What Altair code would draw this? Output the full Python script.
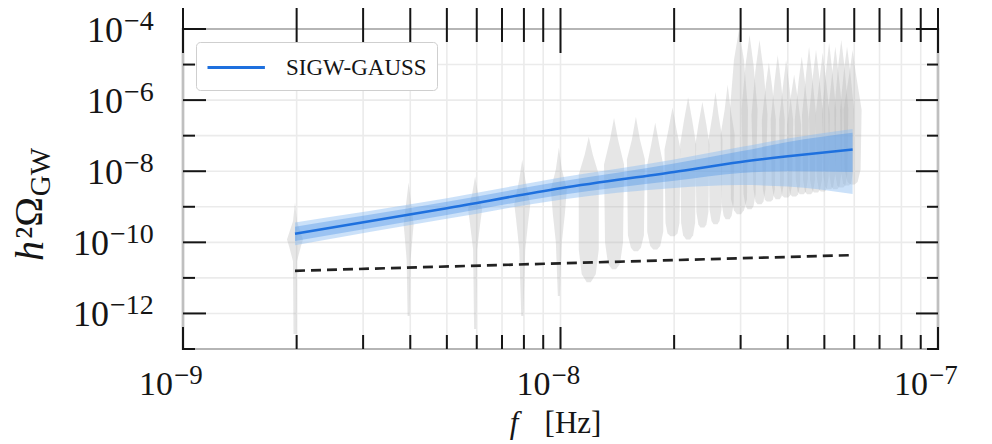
import altair as alt
import pandas as pd

FONT = "Liberation Serif"

# ---------------- data ----------------
F_BIN = 1.98e-9                      # frequency bin spacing (1/T)
K = list(range(1, 31))               # frequency bins

# violin outlines: log10(h^2 Omega) levels (top -> bottom) and relative widths
VIOLIN_LEVELS = [
    [-8.88, -9.41, -9.92, -10.10, -10.53, -12.58],
    [-8.32, -8.79, -9.50, -9.80, -10.48, -12.07],
    [-8.15, -8.65, -9.07, -9.50, -10.20, -12.44],
    [-7.67, -8.23, -8.93, -9.40, -10.20, -12.07],
    [-7.34, -7.95, -8.51, -9.20, -10.00, -11.51],
    [-7.03, -7.53, -8.09, -10.20, -10.90, -11.12],
    [-6.50, -7.11, -7.81, -10.00, -10.60, -10.76],
    [-6.47, -7.11, -7.67, -9.80, -10.15, -10.25],
    [-6.64, -7.25, -7.81, -9.70, -10.10, -10.20],
    [-6.21, -6.83, -7.39, -9.45, -9.75, -9.83],
    [-5.93, -6.55, -7.25, -9.45, -9.80, -9.92],
    [-6.05, -6.69, -7.25, -9.15, -9.50, -9.58],
    [-5.77, -6.41, -7.11, -9.07, -9.40, -9.49],
    [-5.57, -6.27, -6.97, -8.90, -9.25, -9.35],
    [-4.03, -4.87, -6.27, -8.79, -9.10, -9.21],
    [-4.17, -5.01, -6.27, -8.65, -8.98, -9.07],
    [-4.31, -5.15, -6.41, -8.51, -8.85, -8.93],
    [-4.95, -5.57, -6.55, -8.51, -8.80, -8.85],
    [-4.73, -5.43, -6.55, -8.37, -8.70, -8.79],
    [-4.87, -5.57, -6.55, -8.37, -8.68, -8.74],
    [-5.29, -5.85, -6.69, -8.37, -8.65, -8.71],
    [-4.78, -5.43, -6.55, -8.23, -8.58, -8.65],
    [-4.50, -5.29, -6.41, -8.23, -8.58, -8.65],
    [-4.59, -5.29, -6.41, -8.23, -8.52, -8.60],
    [-4.67, -5.37, -6.41, -8.15, -8.50, -8.57],
    [-4.39, -5.15, -6.27, -8.09, -8.44, -8.51],
    [-4.50, -5.21, -6.27, -8.09, -8.44, -8.51],
    [-4.31, -5.01, -6.27, -8.09, -8.40, -8.46],
    [-4.50, -5.15, -6.27, -8.01, -8.34, -8.40],
    [-4.59, -5.21, -6.27, -7.95, -8.30, -8.37],
]
VIOLIN_WIDTH = [
    [0, .2, .8, .6, .2, .15],
    [0, .2, .5, .4, .2, .10],
    [0, .3, .7, .5, .2, .10],
    [0, .3, .8, .6, .3, .10],
    [0, .3, .8, .6, .3, .10],
    [0, .4, 1.0, 1.0, .7, .2],
    [0, .4, 1.0, .9, .6, .2],
    [0, .4, .9, .8, .5, .2],
    [0, .4, .8, .8, .5, .2],
    [0, .4, .8, .7, .5, .2],
    [0, .4, .8, .7, .5, .2],
    [0, .4, .7, .6, .4, .2],
    [0, .3, .7, .6, .4, .2],
    [0, .3, .7, .6, .4, .2],
    [0, .5, .9, .8, .5, .2],
    [0, .4, .8, .6, .4, .2],
    [0, .4, .8, .6, .4, .2],
    [0, .3, .7, .6, .4, .2],
    [0, .3, .7, .6, .4, .2],
    [0, .3, .7, .6, .4, .2],
    [0, .3, .7, .6, .4, .2],
    [0, .3, .7, .6, .4, .2],
    [0, .3, .7, .6, .4, .2],
    [0, .3, .7, .6, .4, .2],
    [0, .3, .7, .6, .4, .2],
    [0, .3, .7, .6, .4, .2],
    [0, .3, .7, .6, .4, .2],
    [0, .3, .7, .6, .4, .2],
    [0, .3, .7, .6, .4, .2],
    [0, .3, .9, .8, .5, .2],
]
VIOLIN_MAX_HALFWIDTH_DEC = 0.0265    # widest violin half-width, in decades of f

# SIGW-GAUSS posterior (log10 h^2 Omega)
SIGW_F = [1.98e-9, 5e-9, 1e-8, 2e-8, 3e-8, 4e-8, 5.94e-8]
SIGW_MED = [-9.76, -9.04, -8.48, -8.02, -7.74, -7.58, -7.39]
SIGW_IN_LO = [-9.96, -9.23, -8.67, -8.27, -8.05, -8.00, -8.02]
SIGW_IN_HI = [-9.56, -8.86, -8.29, -7.78, -7.44, -7.18, -6.92]
SIGW_OUT_LO = [-10.08, -9.34, -8.80, -8.47, -8.39, -8.43, -8.64]
SIGW_OUT_HI = [-9.44, -8.76, -8.18, -7.67, -7.32, -7.08, -6.81]

# dashed reference curve
DASH_F = [1.98e-9, 1e-8, 5.94e-8]
DASH_LOG = [-10.80, -10.59, -10.36]

X_TICK_MAJOR = [1e-9, 1e-8, 1e-7]
X_TICK_MINOR = [m * 10.0 ** e for e in (-9, -8) for m in range(2, 10)]
X_LABEL_EXP = ["\u22129", "\u22128", "\u22127"]
Y_TICK_MAJOR = [1e-4, 1e-6, 1e-8, 1e-10, 1e-12]
Y_TICK_MINOR = [1e-5, 1e-7, 1e-9, 1e-11, 1e-13]
Y_LABEL_EXP = ["\u22124", "\u22126", "\u22128", "\u221210", "\u221212"]

# ---------------- tables ----------------
vrows = []
for k, lev, wid in zip(K, VIOLIN_LEVELS, VIOLIN_WIDTH):
    f = k * F_BIN
    for lv, w in zip(lev, wid):
        hw = 10 ** (w * VIOLIN_MAX_HALFWIDTH_DEC)
        vrows.append({"k": k, "lvl": 10 ** lv, "lo": f / hw, "hi": f * hw})
violins = pd.DataFrame(vrows)

sigw = pd.DataFrame({
    "f": SIGW_F,
    "med": [10 ** v for v in SIGW_MED],
    "ilo": [10 ** v for v in SIGW_IN_LO],
    "ihi": [10 ** v for v in SIGW_IN_HI],
    "olo": [10 ** v for v in SIGW_OUT_LO],
    "ohi": [10 ** v for v in SIGW_OUT_HI],
    "series": ["SIGW-GAUSS"] * len(SIGW_F),
})
dash = pd.DataFrame({"f": DASH_F, "v": [10 ** v for v in DASH_LOG]})

xmaj = pd.DataFrame({"f": X_TICK_MAJOR, "e": X_LABEL_EXP})
xmin = pd.DataFrame({"f": X_TICK_MINOR})
ymaj = pd.DataFrame({"v": Y_TICK_MAJOR, "e": Y_LABEL_EXP})
ymin = pd.DataFrame({"v": Y_TICK_MINOR})
ylab1 = ymaj[ymaj["e"].str.len() == 2]
ylab2 = ymaj[ymaj["e"].str.len() == 3]
one = pd.DataFrame({"a": [0]})
gridx = pd.DataFrame({"f": sorted(X_TICK_MAJOR + X_TICK_MINOR)})
gridy = pd.DataFrame({"v": sorted(Y_TICK_MAJOR + Y_TICK_MINOR)})

W, H = 755, 320
XS = alt.Scale(type="log", domain=[1e-9, 1e-7])
YS = alt.Scale(type="log", domain=[1e-13, 1e-4])
INK = "#151515"
GRID = "#ebebeb"

# ---------------- layers ----------------
grid_x = alt.Chart(gridx).mark_rule(color=GRID, strokeWidth=1.6).encode(
    x=alt.X("f:Q", scale=XS, axis=None), y=alt.value(0), y2=alt.value(H))
grid_y = alt.Chart(gridy).mark_rule(color=GRID, strokeWidth=1.6).encode(
    y=alt.Y("v:Q", scale=YS, axis=None), x=alt.value(0), x2=alt.value(W))

violin_layer = alt.Chart(violins).mark_area(
    orient="horizontal", color="#b0b0b0", opacity=0.32
).encode(
    y=alt.Y("lvl:Q", scale=YS, axis=None),
    x=alt.X("lo:Q", scale=XS, axis=None),
    x2="hi:Q",
    detail="k:N",
)

outer_band = alt.Chart(sigw).mark_area(color="#8bbcf1", opacity=0.45, interpolate="monotone").encode(
    x=alt.X("f:Q", scale=XS, axis=None), y=alt.Y("olo:Q", scale=YS, axis=None), y2="ohi:Q")
inner_band = alt.Chart(sigw).mark_area(color="#4b92e8", opacity=0.38, interpolate="monotone").encode(
    x=alt.X("f:Q", scale=XS, axis=None), y=alt.Y("ilo:Q", scale=YS, axis=None), y2="ihi:Q")
med_line = alt.Chart(sigw).mark_line(strokeWidth=2.6, interpolate="monotone").encode(
    x=alt.X("f:Q", scale=XS, axis=None),
    y=alt.Y("med:Q", scale=YS, axis=None),
    color=alt.Color("series:N", scale=alt.Scale(domain=["SIGW-GAUSS"], range=["#1e70de"]),
                    legend=alt.Legend(title=None, orient="top-left", offset=13, padding=10,
                                      fillColor="white", strokeColor="#cfcfcf", cornerRadius=4,
                                      labelFont=FONT, labelFontSize=23, labelColor=INK,
                                      symbolType="M-1,0H3.1", symbolSize=784, symbolStrokeWidth=3,
                                      labelOffset=49, symbolOffset=0)),
)
dash_line = alt.Chart(dash).mark_line(color="#222222", strokeWidth=2.7, strokeDash=[10, 6]).encode(
    x=alt.X("f:Q", scale=XS, axis=None), y=alt.Y("v:Q", scale=YS, axis=None))

def xrule(df, y1, y2):
    return alt.Chart(df).mark_rule(color=INK, strokeWidth=2).encode(
        x=alt.X("f:Q", scale=XS, axis=None), y=alt.value(y1), y2=alt.value(y2))

def yrule(df, x1, x2):
    return alt.Chart(df).mark_rule(color=INK, strokeWidth=2).encode(
        y=alt.Y("v:Q", scale=YS, axis=None), x=alt.value(x1), x2=alt.value(x2))

ticks = [
    xrule(xmin, H, H - 14), xrule(xmaj, H, H - 22),
    xrule(xmin, -21, 13), xrule(xmaj, -21, 24),
    yrule(ymin, 0, 12), yrule(ymaj, 0, 23),
    yrule(ymin, W, W - 11), yrule(ymaj, W, W - 22),
]

x_ten = alt.Chart(xmaj).mark_text(text="10", align="right", baseline="alphabetic", dx=-10,
                                  font=FONT, fontSize=34, color=INK).encode(
    x=alt.X("f:Q", scale=XS, axis=None), y=alt.value(H + 46))
x_exp = alt.Chart(xmaj).mark_text(align="left", baseline="alphabetic", dx=-9,
                                  font=FONT, fontSize=27, color=INK).encode(
    x=alt.X("f:Q", scale=XS, axis=None), y=alt.value(H + 35), text="e:N")

def ylabels(df, xr):
    ten = alt.Chart(df).mark_text(text="10", align="right", baseline="alphabetic", dy=13,
                                  font=FONT, fontSize=36, color=INK).encode(
        y=alt.Y("v:Q", scale=YS, axis=None), x=alt.value(xr))
    ex = alt.Chart(df).mark_text(align="left", baseline="alphabetic", dy=1,
                                 font=FONT, fontSize=28, color=INK).encode(
        y=alt.Y("v:Q", scale=YS, axis=None), x=alt.value(xr + 1), text="e:N")
    return [ten, ex]

ylabs = ylabels(ylab1, -60) + ylabels(ylab2, -74)

def label(txt, x, y, size, angle=0, style="normal", align="center"):
    return alt.Chart(one).mark_text(text=txt, font=FONT, fontSize=size, fontStyle=style,
                                    angle=angle, align=align, baseline="middle", color=INK).encode(
        x=alt.value(x), y=alt.value(y))

titles = [
    label("f", 331, 395, 31, style="italic"),
    label("[Hz]", 390, 395, 31),
    label("h", -152, 222, 40, angle=270, style="italic"),
    label("\u00b2\u03a9", -153, 189, 40, angle=270),
    label("GW", -142, 143, 29, angle=270),
]

chart = alt.layer(
    grid_x, grid_y, violin_layer, outer_band, inner_band, dash_line, med_line,
    *ticks, x_ten, x_exp, *ylabs, *titles,
).properties(
    width=W, height=H,
    padding={"left": 183, "top": 29, "right": 54, "bottom": 95},
    autosize=alt.AutoSizeParams(type="none"),
    background="white",
).configure_view(stroke=INK, strokeWidth=2.2)

chart.save("out.html", embed_options={"renderer": "svg", "actions": False})
